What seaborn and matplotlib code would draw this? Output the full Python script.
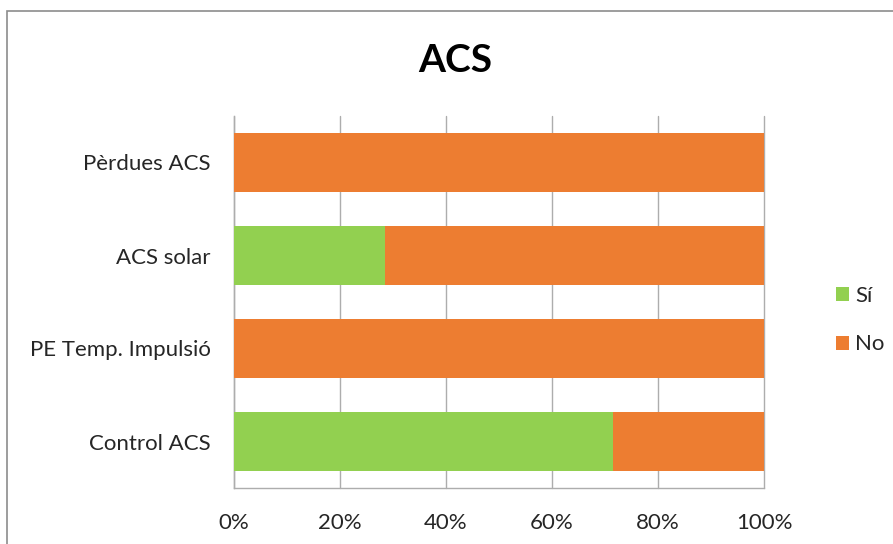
import matplotlib
matplotlib.use("Agg")
import matplotlib.pyplot as plt
import seaborn as sns
import pandas as pd
from matplotlib.patches import Rectangle, Patch
from matplotlib.ticker import FuncFormatter

categories = ["Pèrdues ACS", "ACS solar", "PE Temp. Impulsió", "Control ACS"]
si_values = [0.0, 28.57, 0.0, 71.43]
no_values = [100.0, 71.43, 100.0, 28.57]
series_names = ["Sí", "No"]
colors = {"Sí": "#92D050", "No": "#ED7D31"}
xticks = [0, 20, 40, 60, 80, 100]
title = "ACS"

sns.set_style("white")
plt.rcParams['font.family'] = ['Lato', 'DejaVu Sans']

df = pd.DataFrame({"cat": categories, "Sí": si_values, "No": no_values})
df["total"] = df["Sí"] + df["No"]

fig = plt.figure(figsize=(8.93, 5.44), dpi=100)
ax = fig.add_axes([234/893, 1-488/544, (764-234)/893, (488-116)/544])

sns.barplot(data=df, y="cat", x="total", color=colors["No"], orient="h",
            width=0.64, ax=ax, saturation=1, zorder=3, linewidth=0)
sns.barplot(data=df, y="cat", x="Sí", color=colors["Sí"], orient="h",
            width=0.64, ax=ax, saturation=1, zorder=4, linewidth=0)

ax.set_xlim(0, 100)
ax.set_xticks(xticks)
ax.xaxis.set_major_formatter(FuncFormatter(lambda v, p: f"{int(v)}%"))
ax.set_xlabel("")
ax.set_ylabel("")
ax.grid(axis="x", color="#ADADAD", linewidth=1.0, zorder=0)
ax.grid(axis="y", visible=False)
for gl in ax.get_xgridlines():
    gl.set_clip_on(False)
for s in ["top", "right"]:
    ax.spines[s].set_visible(False)
for s in ["left", "bottom"]:
    ax.spines[s].set_color("#ADADAD")
    ax.spines[s].set_linewidth(1.0)
ax.tick_params(axis="both", length=0, labelsize=16, colors="#262626")
ax.tick_params(axis="y", pad=17)
ax.tick_params(axis="x", pad=18)

fig.text(455/893, 1-60/544, title, ha="center", va="center",
         fontsize=28, fontweight="bold", color="black")

handles = [Patch(facecolor=colors[n], edgecolor="none") for n in series_names]
fig.legend(handles, series_names, loc="center left",
           bbox_to_anchor=(816/893, 1-320/544), frameon=False,
           fontsize=16, handlelength=0.6, handleheight=0.6,
           handletextpad=0.25, labelspacing=1.3, labelcolor="#262626")

fig.patches.append(Rectangle((7/893, -0.1), 1.2, 1.1 - 11/544,
                             transform=fig.transFigure, fill=False,
                             edgecolor="#8C8C8C", linewidth=1.2))

fig.savefig("out.png", dpi=100)
